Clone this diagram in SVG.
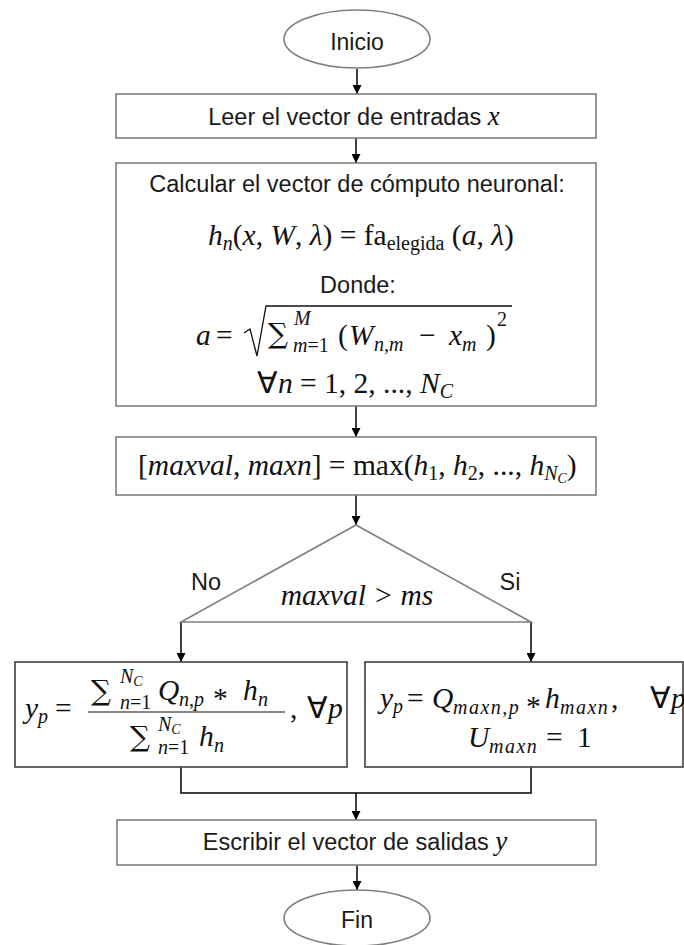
<svg xmlns="http://www.w3.org/2000/svg" width="684" height="945" viewBox="0 0 684 945">
<defs>
<marker id="ah" viewBox="0 0 10 10" refX="10" refY="5" markerWidth="10" markerHeight="9" markerUnits="userSpaceOnUse" orient="auto"><path d="M0,0 L10,5 L0,10 z" fill="#000"/></marker>
<style>
.box{fill:#fff;stroke:#7f7f7f;stroke-width:1.6}
.box2{fill:#fff;stroke:#404040;stroke-width:1.6}
.t{font-family:"Liberation Sans",Arial,sans-serif;font-size:23.5px;fill:#1a1a1a}
.m{font-family:"Liberation Serif","Times New Roman",serif;font-size:29.5px;fill:#111}
.i{font-style:italic}
.s{font-size:20px}
.ss{font-size:14px}
.ls{letter-spacing:1.5px}
.sum{font-family:"DejaVu Serif","Liberation Serif",serif;font-size:28px;fill:#111}
.c{stroke:#000;stroke-width:1.5;fill:none}
.ca{stroke:#000;stroke-width:1.5;fill:none;marker-end:url(#ah)}
</style>
</defs>
<rect width="684" height="945" fill="#fff"/>

<g id="connectors">
<path class="ca" d="M357,69 V94"/>
<path class="ca" d="M356,138 V163"/>
<path class="ca" d="M356,406 V437"/>
<path class="ca" d="M356,495 V525"/>
<path class="ca" d="M181,622 V662"/>
<path class="ca" d="M531,622 V662"/>
<path class="c" d="M181,767 V793 H531 V767"/>
<path class="ca" d="M356,793 V820"/>
<path class="ca" d="M357,865 V890"/>
</g>

<g id="inicio">
<ellipse cx="357" cy="39" rx="73" ry="29" class="box"/>
<text class="t" x="357" y="50" text-anchor="middle" style="font-size:23px">Inicio</text>
</g>

<g id="leer">
<rect x="116" y="94" width="480" height="44" class="box"/>
<text class="t" x="354" y="125" text-anchor="middle">Leer el vector de entradas <tspan class="m i" style="font-size:27px">x</tspan></text>
</g>

<g id="calcular">
<rect x="116" y="163" width="480" height="243" class="box"/>
<text class="t" x="357" y="192" text-anchor="middle">Calcular el vector de cómputo neuronal:</text>
<text class="m" x="208" y="245"><tspan class="i">h</tspan><tspan class="s i" dy="5">n</tspan><tspan dy="-5">(</tspan><tspan class="i">x</tspan>, <tspan class="i">W</tspan>, <tspan class="i">λ</tspan>) = fa<tspan class="s" dy="5">elegida</tspan><tspan dy="-5"> (</tspan><tspan class="i">a</tspan>, <tspan class="i">λ</tspan>)</text>
<text class="t" x="358" y="293" text-anchor="middle">Donde:</text>
<text class="m i" x="196" y="345">a</text>
<text class="m" x="216" y="345">=</text>
<path d="M244,333 L250,329 L257,356 L266,306 L512,306" fill="none" stroke="#111" stroke-width="1.3"/>
<text class="sum" x="268" y="343">∑</text>
<text class="m i s" x="294" y="325">M</text>
<text class="m s" x="293" y="352"><tspan class="i">m</tspan>=1</text>
<text class="m" x="338" y="345">(</text>
<text class="m i" x="349" y="345">W</text>
<text class="m i s" x="374" y="351">n,m</text>
<text class="m" x="419" y="345">−</text>
<text class="m i" x="449" y="345">x</text>
<text class="m i s" x="462" y="351">m</text>
<text class="m" x="486" y="345">)</text>
<text class="m s" x="497" y="326">2</text>
<text class="m" x="355" y="393" text-anchor="middle">∀<tspan class="i">n</tspan> = 1, 2, ..., <tspan class="i">N</tspan><tspan class="s i" dy="5">C</tspan></text>
</g>

<g id="max">
<rect x="116" y="437" width="480" height="58" class="box"/>
<text class="m" x="138" y="475">[<tspan class="i">maxval</tspan>, <tspan class="i">maxn</tspan>] = max(<tspan class="i">h</tspan><tspan class="s" dy="5">1</tspan><tspan dy="-5">, </tspan><tspan class="i">h</tspan><tspan class="s" dy="5">2</tspan><tspan dy="-5">, ..., </tspan><tspan class="i">h</tspan><tspan class="s i" dy="5">N</tspan><tspan class="ss i" dy="3">C</tspan><tspan dy="-8">)</tspan></text>
</g>

<g id="decision">
<polygon points="356,525 181,622 531,622" class="box"/>
<text class="m i" x="357" y="605" text-anchor="middle">maxval &gt; ms</text>
<text class="t" x="206" y="590" text-anchor="middle">No</text>
<text class="t" x="510" y="590" text-anchor="middle">Si</text>
</g>

<g id="promedio">
<rect x="15" y="662" width="332" height="105" class="box2"/>
<text class="m" x="25" y="718"><tspan class="i">y</tspan><tspan class="s i" dy="5">p</tspan></text>
<text class="m" x="55" y="718">=</text>
<text class="sum" x="91" y="700">∑</text>
<text class="m s i" x="120" y="683">N<tspan class="ss" dy="3">C</tspan></text>
<text class="m s" x="120" y="709"><tspan class="i">n</tspan>=1</text>
<text class="m i" x="158" y="700">Q</text>
<text class="m s i" x="179" y="706">n,p</text>
<text class="m" x="213" y="708">*</text>
<text class="m i" x="243" y="700">h</text>
<text class="m s i" x="258" y="706">n</text>
<line x1="88" y1="712" x2="285" y2="712" stroke="#111" stroke-width="1.2"/>
<text class="sum" x="130" y="746">∑</text>
<text class="m s i" x="158" y="731">N<tspan class="ss" dy="3">C</tspan></text>
<text class="m s" x="158" y="754"><tspan class="i">n</tspan>=1</text>
<text class="m i" x="199" y="746">h</text>
<text class="m s i" x="214" y="752">n</text>
<text class="m" x="290" y="718">,</text>
<text class="m" x="307" y="718">∀<tspan class="i">p</tspan></text>
</g>

<g id="ganadora">
<rect x="365" y="662" width="318" height="105" class="box2"/>
<text class="m" x="380" y="708"><tspan class="i">y</tspan><tspan class="s i" dy="5">p</tspan></text>
<text class="m" x="407" y="708">=</text>
<text class="m i" x="432" y="708">Q</text>
<text class="m s i ls" x="453" y="714">maxn,p</text>
<text class="m" x="526" y="716">*</text>
<text class="m i" x="545" y="708">h</text>
<text class="m s i ls" x="560" y="714">maxn</text>
<text class="m" x="611" y="708">,</text>
<text class="m" x="650" y="708">∀<tspan class="i">p</tspan></text>
<text class="m i" x="468" y="747">U</text>
<text class="m s i ls" x="489" y="753">maxn</text>
<text class="m" x="546" y="747">=</text>
<text class="m" x="577" y="747">1</text>
</g>

<g id="escribir">
<rect x="117" y="820" width="479" height="45" class="box"/>
<text class="t" x="355" y="850" text-anchor="middle">Escribir el vector de salidas <tspan class="m i" style="font-size:27px">y</tspan></text>
</g>

<g id="fin">
<ellipse cx="357" cy="918" rx="73" ry="28" class="box"/>
<text class="t" x="357" y="928" text-anchor="middle" style="font-size:23px">Fin</text>
</g>
</svg>
